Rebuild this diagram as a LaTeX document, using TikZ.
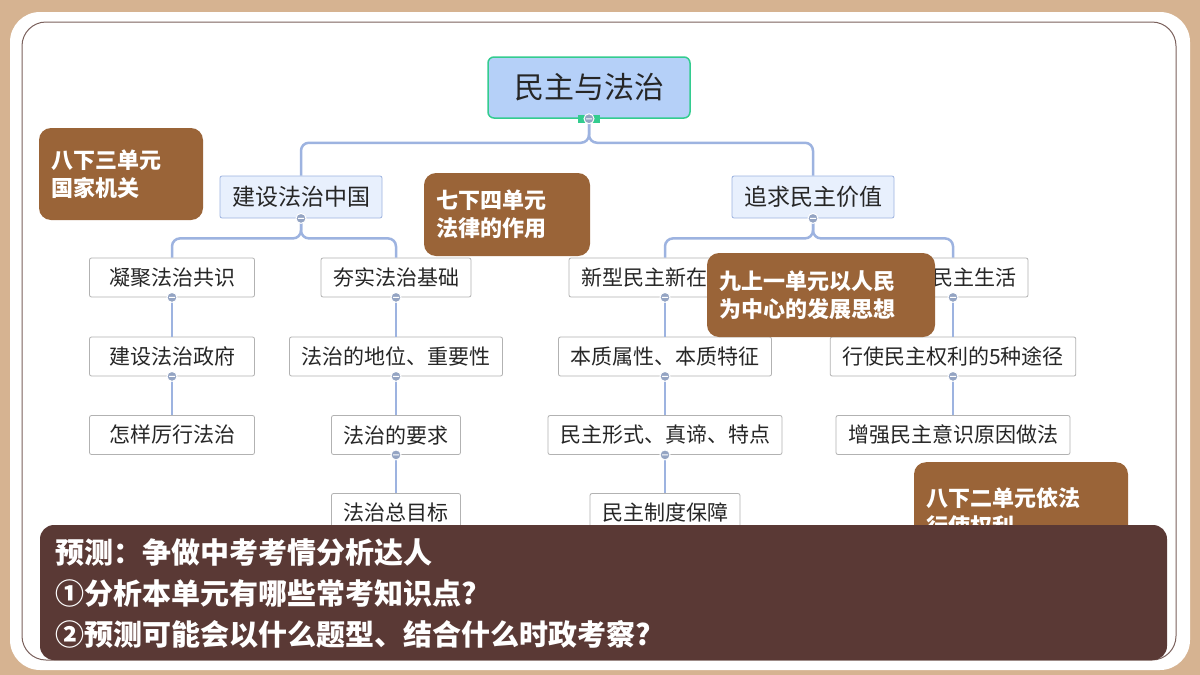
\documentclass[tikz,border=0pt]{standalone}
\usepackage{fontspec}
\setmainfont{Noto Sans CJK SC}
\definecolor{tan}{HTML}{D6B391}
\definecolor{rootfill}{HTML}{B5D0F8}
\definecolor{rootline}{HTML}{33CC8F}
\definecolor{subfill}{HTML}{E8F0FD}
\definecolor{link}{HTML}{9DB3E0}
\definecolor{note}{HTML}{9A6438}
\definecolor{bar}{HTML}{5A3935}
\begin{document}
\begin{tikzpicture}[x=1pt,y=-1pt,
    topic/.style={draw=gray!60,line width=0.8pt,fill=white,rounded corners=2pt,minimum height=39pt,inner xsep=12pt,font=\fontsize{21}{23}\selectfont,text=black!85},
    sub/.style={topic,fill=subfill,draw=link,minimum height=42pt,font=\fontsize{23}{26}\selectfont},
    note/.style={fill=note,rounded corners=12pt,text=white,font=\bfseries\fontsize{22}{28}\selectfont,align=left,inner sep=12pt},
    link/.style={draw=link,line width=2.5pt,rounded corners=8pt}]
    \fill[tan] (0,0) rectangle (1200,675);
    \fill[white,rounded corners=30pt] (10,12) rectangle (1190,670);
    \draw[bar!80,line width=1pt,rounded corners=24pt] (22,22) rectangle (1176,660);
    \useasboundingbox (0,0) rectangle (1200,675);
    % root and branches
    \node[topic,fill=rootfill,draw=rootline,line width=1.5pt,rounded corners=6pt,minimum width=202pt,minimum height=61pt,font=\fontsize{30}{32}\selectfont] (root) at (589,87.5) {民主与法治};
    \node[sub] (law) at (301,197) {建设法治中国};
    \node[sub] (demo) at (813,197) {追求民主价值};
    % left side
    \node[topic,minimum width=165pt] (l1) at (172,277.5) {凝聚法治共识};
    \node[topic,minimum width=165pt] (l2) at (172,356.5) {建设法治政府};
    \node[topic,minimum width=165pt] (l3) at (172,435) {怎样厉行法治};
    \node[topic] (m1) at (396,277.5) {夯实法治基础};
    \node[topic] (m2) at (396,356.5) {法治的地位、重要性};
    \node[topic] (m3) at (396,435) {法治的要求};
    \node[topic] (m4) at (396,513) {法治总目标};
    % right side
    \node[topic] (r1) at (665,277.5) {新型民主新在哪里};
    \node[topic] (r2) at (665,356.5) {本质属性、本质特征};
    \node[topic] (r3) at (665,435) {民主形式、真谛、特点};
    \node[topic] (r4) at (665,513) {民主制度保障};
    \node[topic] (s1) at (953,277.5) {参与民主生活};
    \node[topic] (s2) at (953,356.5) {行使民主权利的5种途径};
    \node[topic] (s3) at (953,435) {增强民主意识原因做法};
    \draw[link] (root.south) -- ++(0,24) -| (law.north);
    \draw[link] (root.south) -- ++(0,24) -| (demo.north);
    \draw[link] (law.south) -- ++(0,20) -| (l1.north);
    \draw[link] (law.south) -- ++(0,20) -| (m1.north);
    \draw[link] (demo.south) -- ++(0,20) -| (r1.north);
    \draw[link] (demo.south) -- ++(0,20) -| (s1.north);
    \foreach \a/\b in {l1/l2,l2/l3,m1/m2,m2/m3,m3/m4,r1/r2,r2/r3,r3/r4,s1/s2,s2/s3}
        \draw[link] (\a.south) -- (\b.north);
    \fill[rootline] ([yshift=4pt]root.south) ++(-11,0) rectangle ++(22,8);
    \foreach \n in {root,law,demo,l1,l2,m1,m2,m3,r1,r2,r3,s1,s2}
        \filldraw[fill=link!70!gray,draw=white,line width=1pt] (\n.south) circle (5pt)
            (\n.south) ++(-3,0) -- ++(6,0);
    % notes
    \node[note,text width=140pt,minimum height=92pt] (n1) at (121,174) {八下三单元\\国家机关};
    \node[note,text width=142pt,minimum height=83pt] (n2) at (507,214.5) {七下四单元\\法律的作用};
    \node[note,text width=204pt,minimum height=84pt] (n3) at (821,295) {九上一单元以人民\\为中心的发展思想};
    \node[note,text width=190pt,minimum height=100pt,anchor=north] (n4) at (1021,462) {八下二单元依法\\行使权利};
    \node[fill=bar,rounded corners=14pt,minimum width=1127pt,minimum height=135pt] (task) at (603.5,592.5) {};
    \node[anchor=west,text=white,font=\bfseries\fontsize{29}{41}\selectfont,align=left] (q) at (52,594) {预测：争做中考考情分析达人\\①分析本单元有哪些常考知识点?\\②预测可能会以什么题型、结合什么时政考察?};
\end{tikzpicture}
\end{document}
